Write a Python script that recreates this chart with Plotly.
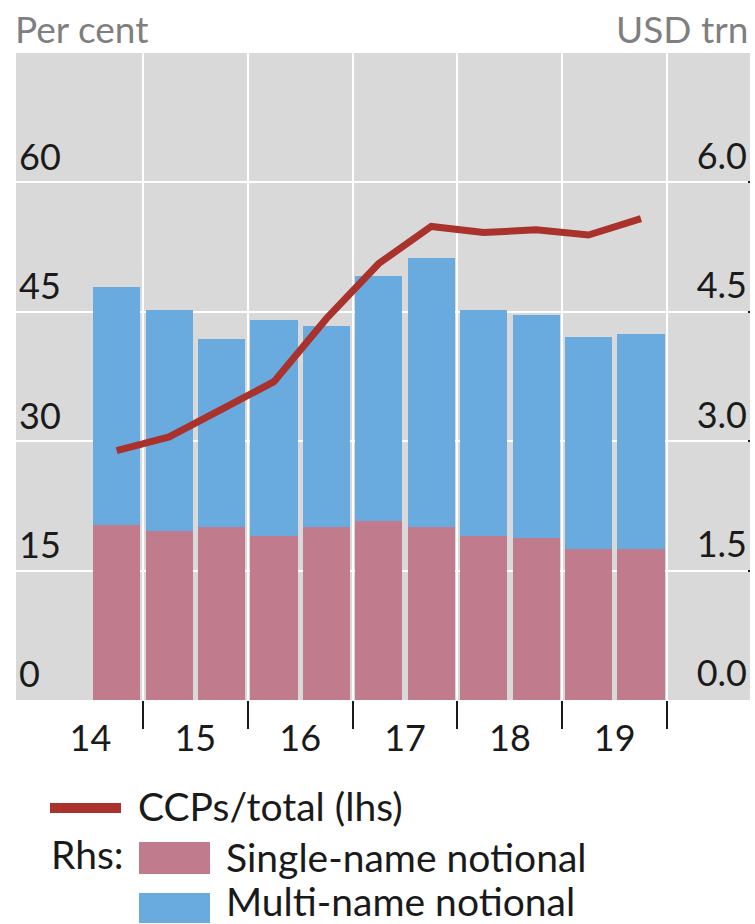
import plotly.graph_objects as go

# ---------------- data ----------------
PERIODS = ["H2 2014", "H1 2015", "H2 2015", "H1 2016", "H2 2016", "H1 2017",
           "H2 2017", "H1 2018", "H2 2018", "H1 2019", "H2 2019"]
PERIOD_X = [2014.75, 2015.25, 2015.75, 2016.25, 2016.75, 2017.25,
            2017.75, 2018.25, 2018.75, 2019.25, 2019.75]
SINGLE_NAME = [2.03, 1.96, 2.00, 1.90, 2.00, 2.08, 2.00, 1.90, 1.88, 1.75, 1.75]
MULTI_NAME = [2.76, 2.56, 2.18, 2.50, 2.33, 2.84, 3.12, 2.62, 2.58, 2.46, 2.49]
CCP_SHARE = [28.9, 30.5, 33.7, 36.9, 44.2, 50.6, 54.9, 54.2, 54.5, 53.9, 55.8]

YEAR_LABEL_X = [2014.5, 2015.5, 2016.5, 2017.5, 2018.5, 2019.5]
YEAR_LABELS = ["14", "15", "16", "17", "18", "19"]
YEAR_BOUNDS = [2015, 2016, 2017, 2018, 2019, 2020]
LHS_TICKS = [0, 15, 30, 45, 60]
RHS_TICKS = [0, 1.5, 3.0, 4.5, 6.0]
RHS_TICKTEXT = ["0.0", "1.5", "3.0", "4.5", "6.0"]

# ---------------- style ----------------
W, H = 755, 924
PLOT_L, PLOT_R, PLOT_T, PLOT_B = 16, 750, 53, 700   # reference pixel box
ML, MR = PLOT_L, W - PLOT_R
MT, MB = PLOT_T, H - PLOT_B
FONT = "Lato"
RED = "#a9322c"
PINK = "#c07c8c"
BLUE = "#6aabdf"
BG = "#d9d9d9"
TXT = "#1a1a1a"
GREY = "#7f7f7f"

PW = W - ML - MR
PH = H - MT - MB


def px(x):
    return (x - ML) / PW


def py(y):
    return (H - MB - y) / PH


fig = go.Figure()

fig.add_trace(go.Bar(x=PERIOD_X, y=SINGLE_NAME, name="Single-name notional",
                     marker=dict(color=PINK, line=dict(width=0)), width=0.45,
                     xaxis="x", yaxis="y"))
fig.add_trace(go.Bar(x=PERIOD_X, y=MULTI_NAME, name="Multi-name notional",
                     marker=dict(color=BLUE, line=dict(width=0)), width=0.45,
                     xaxis="x", yaxis="y"))
fig.add_trace(go.Scatter(x=PERIOD_X, y=CCP_SHARE, name="CCPs/total (lhs)",
                         mode="lines", line=dict(color=RED, width=7),
                         xaxis="x", yaxis="y2"))

fig.update_layout(
    width=W, height=H,
    margin=dict(l=ML, r=MR, t=MT, b=MB, autoexpand=False),
    paper_bgcolor="white",
    plot_bgcolor=BG,
    barmode="stack",
    showlegend=False,
    font=dict(family=FONT, color=TXT, size=36),
    xaxis=dict(
        range=[2013.79, 2020.79],
        tickmode="array", tickvals=YEAR_LABEL_X, ticktext=YEAR_LABELS,
        ticks="", showgrid=False, zeroline=False, showline=False,
        tickfont=dict(size=36, color=TXT, family=FONT),
        ticklabelstandoff=14,
        minor=dict(tickmode="array", tickvals=YEAR_BOUNDS, ticks="outside",
                   ticklen=28, tickwidth=2, tickcolor="#1a1a1a",
                   showgrid=True, gridcolor="white", gridwidth=2),
    ),
    yaxis=dict(
        side="right",
        range=[0, 7.5],
        tickmode="array", tickvals=RHS_TICKS, ticktext=RHS_TICKTEXT,
        ticklabelposition="inside top",
        ticks="inside", ticklen=2, tickwidth=2, tickcolor="#1a1a1a",
        showgrid=True, gridcolor="white", gridwidth=2,
        zeroline=False, showline=False,
        tickfont=dict(size=36, color=TXT, family=FONT),
    ),
    yaxis2=dict(
        side="left", overlaying="y",
        range=[0, 75],
        tickmode="array", tickvals=LHS_TICKS,
        ticklabelposition="inside top",
        ticks="", showgrid=False, zeroline=False, showline=False,
        tickfont=dict(size=36, color=TXT, family=FONT),
    ),
)

# axis unit titles
TITLE_FONT = dict(size=37, color=GREY, family=FONT)
fig.add_annotation(text="Per cent", xref="paper", yref="paper",
                   x=px(13), y=py(28), xanchor="left", yanchor="middle",
                   showarrow=False, font=TITLE_FONT)
fig.add_annotation(text="USD trn", xref="paper", yref="paper",
                   x=px(750), y=py(28), xanchor="right", yanchor="middle",
                   showarrow=False, font=TITLE_FONT)

# manual legend
fig.add_shape(type="line", xref="paper", yref="paper",
              x0=px(50), x1=px(121), y0=py(808), y1=py(808),
              line=dict(color=RED, width=10))
fig.add_shape(type="rect", xref="paper", yref="paper",
              x0=px(139), x1=px(210), y0=py(842), y1=py(874),
              fillcolor=PINK, line=dict(width=0))
fig.add_shape(type="rect", xref="paper", yref="paper",
              x0=px(139), x1=px(210), y0=py(893), y1=py(923),
              fillcolor=BLUE, line=dict(width=0))

LEG_FONT = dict(size=39, color=TXT, family=FONT)
fig.add_annotation(text="CCPs/total (lhs)", xref="paper", yref="paper",
                   x=px(136), y=py(806), xanchor="left", yanchor="middle",
                   showarrow=False, font=LEG_FONT)
fig.add_annotation(text="Rhs:", xref="paper", yref="paper",
                   x=px(49), y=py(854), xanchor="left", yanchor="middle",
                   showarrow=False, font=LEG_FONT)
fig.add_annotation(text="Single-name notional", xref="paper", yref="paper",
                   x=px(224), y=py(857), xanchor="left", yanchor="middle",
                   showarrow=False, font=LEG_FONT)
fig.add_annotation(text="Multi-name notional", xref="paper", yref="paper",
                   x=px(224), y=py(901), xanchor="left", yanchor="middle",
                   showarrow=False, font=LEG_FONT)

fig.write_html(
    "out.html",
    config={"displayModeBar": False},
    post_script="document.body.style.margin='0';document.body.style.overflow='hidden';",
)
